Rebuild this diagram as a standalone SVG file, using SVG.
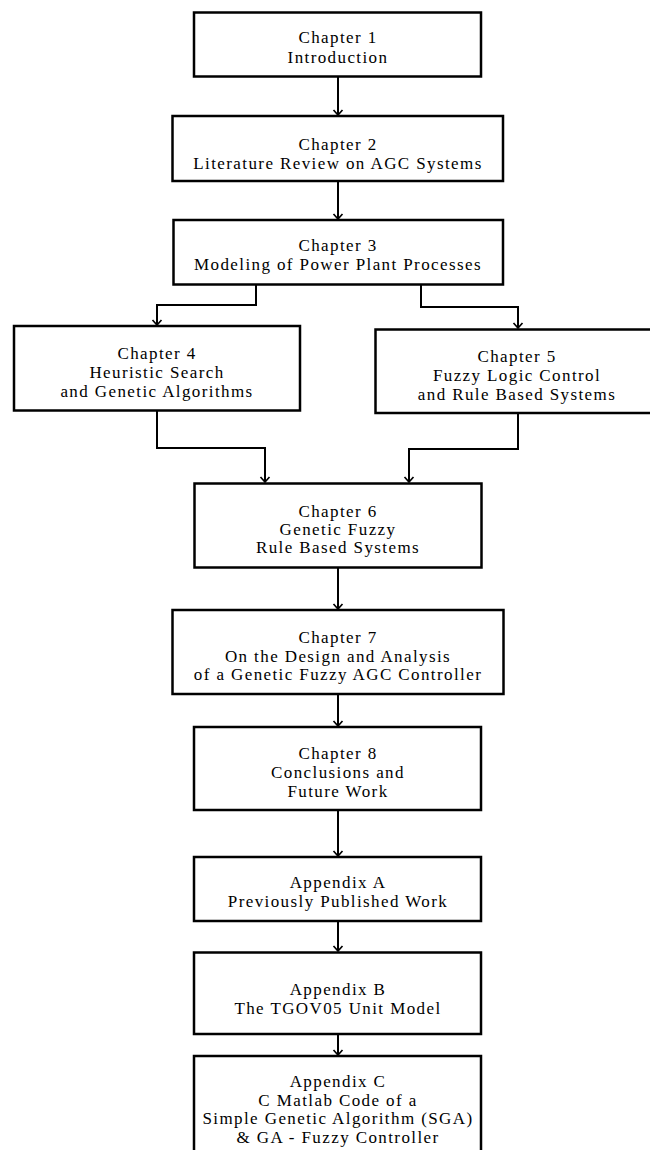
<svg xmlns="http://www.w3.org/2000/svg" width="650" height="1150" viewBox="0 0 650 1150">
  <style>
    .box { fill: #ffffff; stroke: #000000; stroke-width: 2.5; }
    .lbl { font-family: "Liberation Serif", "Times New Roman", serif; font-size: 17px; letter-spacing: 1.4px; fill: #000000; text-anchor: middle; }
    .wire { fill: none; stroke: #000000; stroke-width: 2; marker-end: url(#tip); }
  </style>
  <defs>
    <marker id="tip" markerUnits="userSpaceOnUse" markerWidth="12" markerHeight="12" viewBox="-7 -6 8 12" refX="0" refY="0" orient="auto">
      <path d="M-5,-4.5 L0,0 L-5,4.5" fill="none" stroke="#000000" stroke-width="1.7"/>
    </marker>
  </defs>
  <rect width="650" height="1150" fill="#ffffff"/>

  <!-- connectors -->
  <g id="connectors">
    <path class="wire" d="M338,77 V115"/>
    <path class="wire" d="M338,181 V219"/>
    <path class="wire" d="M256,285 V305 H157 V325"/>
    <path class="wire" d="M421,285 V307 H518 V328"/>
    <path class="wire" d="M157,411 V448 H265 V482"/>
    <path class="wire" d="M518,413 V449 H409 V482"/>
    <path class="wire" d="M338,568 V609"/>
    <path class="wire" d="M338,694 V726"/>
    <path class="wire" d="M338,810 V856"/>
    <path class="wire" d="M338,921 V951"/>
    <path class="wire" d="M338,1034 V1055"/>
  </g>

  <g id="ch1">
    <rect class="box" x="194" y="12.5" width="287" height="64"/>
    <text class="lbl" x="338" y="43">Chapter 1</text>
    <text class="lbl" x="338" y="63">Introduction</text>
  </g>

  <g id="ch2">
    <rect class="box" x="172.5" y="116" width="330.5" height="65"/>
    <text class="lbl" x="338" y="150">Chapter 2</text>
    <text class="lbl" x="338" y="169">Literature Review on AGC Systems</text>
  </g>

  <g id="ch3">
    <rect class="box" x="173.5" y="220" width="329.5" height="64.5"/>
    <text class="lbl" x="338" y="251">Chapter 3</text>
    <text class="lbl" x="338" y="270">Modeling of Power Plant Processes</text>
  </g>

  <g id="ch4">
    <rect class="box" x="14" y="326" width="286" height="84.5"/>
    <text class="lbl" x="157" y="359">Chapter 4</text>
    <text class="lbl" x="157" y="378">Heuristic Search</text>
    <text class="lbl" x="157" y="397">and Genetic Algorithms</text>
  </g>

  <g id="ch5">
    <rect class="box" x="375.5" y="329.5" width="285" height="83.5"/>
    <text class="lbl" x="517" y="362">Chapter 5</text>
    <text class="lbl" x="517" y="381">Fuzzy Logic Control</text>
    <text class="lbl" x="517" y="400">and Rule Based Systems</text>
  </g>

  <g id="ch6">
    <rect class="box" x="194.5" y="483.5" width="287" height="84"/>
    <text class="lbl" x="338" y="517">Chapter 6</text>
    <text class="lbl" x="338" y="535">Genetic Fuzzy</text>
    <text class="lbl" x="338" y="553">Rule Based Systems</text>
  </g>

  <g id="ch7">
    <rect class="box" x="172.5" y="610" width="331" height="84"/>
    <text class="lbl" x="338" y="643">Chapter 7</text>
    <text class="lbl" x="338" y="662">On the Design and Analysis</text>
    <text class="lbl" x="338" y="680">of a Genetic Fuzzy AGC Controller</text>
  </g>

  <g id="ch8">
    <rect class="box" x="194" y="727" width="287" height="83"/>
    <text class="lbl" x="338" y="759">Chapter 8</text>
    <text class="lbl" x="338" y="778">Conclusions and</text>
    <text class="lbl" x="338" y="797">Future Work</text>
  </g>

  <g id="appA">
    <rect class="box" x="194" y="857" width="287" height="64"/>
    <text class="lbl" x="338" y="888">Appendix A</text>
    <text class="lbl" x="338" y="907">Previously Published Work</text>
  </g>

  <g id="appB">
    <rect class="box" x="194" y="952.5" width="287" height="81.5"/>
    <text class="lbl" x="338" y="995">Appendix B</text>
    <text class="lbl" x="338" y="1014">The TGOV05 Unit Model</text>
  </g>

  <g id="appC">
    <rect class="box" x="194" y="1056" width="287" height="110"/>
    <text class="lbl" x="338" y="1087">Appendix C</text>
    <text class="lbl" x="338" y="1106">C Matlab Code of a</text>
    <text class="lbl" x="338" y="1124">Simple Genetic Algorithm (SGA)</text>
    <text class="lbl" x="338" y="1143">&amp; GA - Fuzzy Controller</text>
  </g>
</svg>
